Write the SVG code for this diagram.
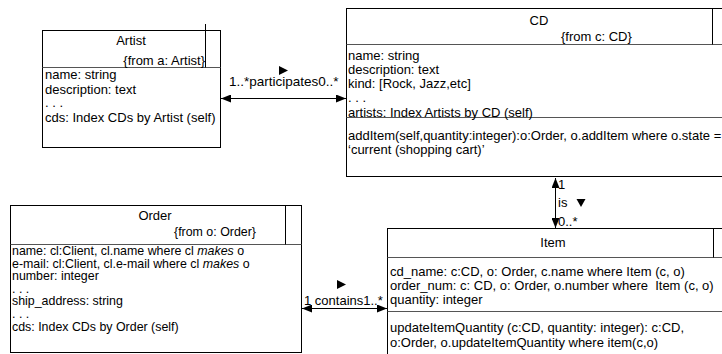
<svg xmlns="http://www.w3.org/2000/svg" width="722" height="354" viewBox="0 0 722 354">
<defs>
<marker id="ah" markerWidth="10" markerHeight="8" refX="10" refY="4" orient="auto-start-reverse" markerUnits="userSpaceOnUse">
<path d="M0,0 L10,4 L0,8 Z" fill="#000"/>
</marker>
</defs>
<style>
text{font-family:"Liberation Sans",Arial,sans-serif;font-size:13px;fill:#000;white-space:pre}
.t{text-anchor:middle}
.e{text-anchor:end}
.o{font-size:12.4px}
.box{fill:#fff;stroke:#000;stroke-width:1}
.sep{stroke:#555;stroke-width:1;fill:none}
.conn{stroke:#000;stroke-width:1;fill:none}
</style>
<rect width="722" height="354" fill="#fff"/>

<g id="artist">
<rect class="box" x="42.5" y="30.5" width="178" height="117"/>
<line class="sep" x1="42.5" y1="67.5" x2="220.5" y2="67.5"/>
<line class="conn" x1="205.5" y1="24" x2="205.5" y2="67.5"/>
<text class="t" x="131" y="45">Artist</text>
<text class="e" x="205" y="65">{from a: Artist}</text>
<text x="45" y="79">name: string</text>
<text x="45" y="93.5">description: text</text>
<text x="45" y="107">. . .</text>
<text x="45" y="122">cds: Index CDs by Artist (self)</text>
</g>

<g id="cd">
<rect class="box" x="346.5" y="8.5" width="382" height="168"/>
<line class="sep" x1="346.5" y1="44.5" x2="722" y2="44.5"/>
<line class="sep" x1="346.5" y1="117.5" x2="722" y2="117.5"/>
<line class="conn" x1="712.5" y1="8.5" x2="712.5" y2="44.5"/>
<text class="t" x="539" y="24.5">CD</text>
<text x="561" y="41">{from c: CD}</text>
<text x="348" y="60">name: string</text>
<text x="348" y="74">description: text</text>
<text x="348" y="88">kind: [Rock, Jazz,etc]</text>
<text x="348" y="102">. . .</text>
<text x="348" y="117">artists: Index Artists by CD (self)</text>
<text x="348" y="140">addItem(self,quantity:integer):o:Order, o.addItem where o.state =</text>
<text x="348" y="153.5">‘current (shopping cart)’</text>
</g>

<g id="order">
<rect class="box" x="10.5" y="205.5" width="291" height="147"/>
<line class="sep" x1="10.5" y1="244.5" x2="301.5" y2="244.5"/>
<line class="conn" x1="285.5" y1="205.5" x2="285.5" y2="244.5"/>
<text class="t" x="155" y="219.5">Order</text>
<text class="o" x="174" y="236">{from o: Order}</text>
<text class="o" x="12" y="255">name: cl:Client, cl.name where cl <tspan font-style="italic">makes</tspan> o</text>
<text class="o" x="12" y="267.6">e-mail: cl:Client, cl.e-mail where cl <tspan font-style="italic">makes</tspan> o</text>
<text class="o" x="12" y="280.2">number: integer</text>
<text class="o" x="12" y="292.8">. . .</text>
<text class="o" x="12" y="305.4">ship_address: string</text>
<text class="o" x="12" y="318">. . .</text>
<text class="o" x="12" y="330.6">cds: Index CDs by Order (self)</text>
</g>

<g id="item">
<rect class="box" x="387.5" y="228.5" width="340" height="140"/>
<line class="sep" x1="387.5" y1="257.5" x2="722" y2="257.5"/>
<line class="sep" x1="387.5" y1="311.5" x2="722" y2="311.5"/>
<line class="conn" x1="713.5" y1="228.5" x2="713.5" y2="257.5"/>
<text class="t" x="553" y="247">Item</text>
<text x="390" y="276">cd_name: c:CD, o: Order, c.name where Item (c, o)</text>
<text x="390" y="290">order_num: c: CD, o: Order, o.number where  Item (c, o)</text>
<text x="390" y="304">quantity: integer</text>
<text x="390" y="332">updateItemQuantity (c:CD, quantity: integer): c:CD,</text>
<text x="390" y="347">o:Order, o.updateItemQuantity where item(c,o)</text>
</g>

<g id="connectors">
<g id="participates">
<line class="conn" x1="221" y1="98.5" x2="346" y2="98.5" marker-start="url(#ah)" marker-end="url(#ah)"/>
<text x="229" y="86" style="font-size:13.5px">1..*participates0..*</text>
<path d="M279,66 L288,70.5 L279,75 Z" fill="#000"/>
</g>
<g id="is">
<line class="conn" x1="555.5" y1="178" x2="555.5" y2="228" marker-start="url(#ah)" marker-end="url(#ah)"/>
<text x="558" y="189">1</text>
<text x="558" y="207">is</text>
<path d="M576.5,199 L585.5,199 L581,207 Z" fill="#000"/>
<text x="558" y="226">0..*</text>
</g>
<g id="contains">
<line class="conn" x1="302" y1="308.5" x2="387" y2="308.5" marker-start="url(#ah)" marker-end="url(#ah)"/>
<text x="304" y="305">1 contains1..*</text>
<path d="M337,280 L346,284.5 L337,289 Z" fill="#000"/>
</g>
</g>
</svg>
